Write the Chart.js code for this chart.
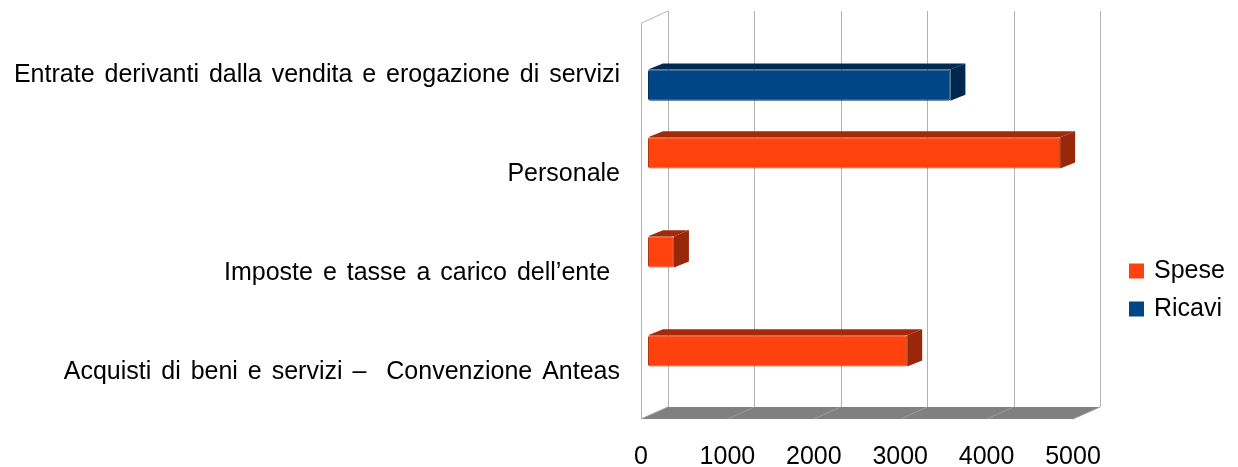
<!DOCTYPE html>
<html>
<head>
<meta charset="utf-8">
<script src="https://cdn.jsdelivr.net/npm/chart.js@4.4.0/dist/chart.umd.min.js"></script>
<style>
  html, body { margin: 0; padding: 0; background: #fff; }
  #wrap { width: 1238px; height: 467px; }
</style>
</head>
<body>
<div id="wrap"><canvas id="grafico"></canvas></div>
<script>
// ===== dati =====
const categorie = [
    'Entrate derivanti dalla vendita e erogazione di servizi',
    'Personale',
    'Imposte e tasse a carico dell’ente ',
    'Acquisti di beni e servizi –  Convenzione Anteas'
];
const spese = [null, 4770, 300, 3000];
const ricavi = [3500, null, null, null];
const tickValori = [0, 1000, 2000, 3000, 4000, 5000];
const serie = ['Spese', 'Ricavi'];

// ===== stile =====
const FONT = 'Liberation Sans, Arial, sans-serif';
const COLORI = {
    Spese:  { fronte: '#ff420e', bordo: '#b8320c', sopra: '#a22a0a', lato: '#992709' },
    Ricavi: { fronte: '#004586', bordo: '#00325f', sopra: '#002a52', lato: '#00284e' }
};

// offset prospettici rispetto al piano delle barre
const FRONTE = { dx: -7, dy: 3 };
const RETRO = { dx: 20, dy: -9 };
const BARRA = { dx: 15, dy: -6 };

function linea(ctx, x1, y1, x2, y2) {
    ctx.beginPath();
    ctx.moveTo(x1, y1);
    ctx.lineTo(x2, y2);
    ctx.stroke();
}

function poligono(ctx, punti, colore) {
    ctx.fillStyle = colore;
    ctx.beginPath();
    punti.forEach(([px, py], i) => i ? ctx.lineTo(px, py) : ctx.moveTo(px, py));
    ctx.closePath();
    ctx.fill();
}

// spaziatura parole un po' piu' larga, come nell'originale
const spaziatura = {
    id: 'spaziatura',
    beforeDraw(chart) {
        chart.ctx.wordSpacing = '3px';
    }
};

// pareti, pavimento e griglia di fondo
const pareti3d = {
    id: 'pareti3d',
    beforeDatasetsDraw(chart) {
        const { ctx, chartArea: a, scales: { x } } = chart;
        const x0 = x.getPixelForValue(tickValori[0]);
        const x1 = x.getPixelForValue(tickValori[tickValori.length - 1]);
        ctx.save();

        // pavimento
        poligono(ctx, [
            [x0 + FRONTE.dx, a.bottom + FRONTE.dy],
            [x1 + FRONTE.dx, a.bottom + FRONTE.dy],
            [x1 + RETRO.dx, a.bottom + RETRO.dy],
            [x0 + RETRO.dx, a.bottom + RETRO.dy]
        ], '#808080');
        ctx.lineWidth = 1;
        ctx.strokeStyle = '#9c9c9c';
        tickValori.forEach(v => {
            const p = x.getPixelForValue(v);
            linea(ctx, p + RETRO.dx, a.bottom + RETRO.dy, p + FRONTE.dx, a.bottom + FRONTE.dy);
        });

        // griglia sulla parete di fondo
        ctx.strokeStyle = '#b3b3b3';
        tickValori.forEach(v => {
            const p = Math.round(x.getPixelForValue(v) + RETRO.dx) + 0.5;
            linea(ctx, p, a.top + RETRO.dy, p, a.bottom + RETRO.dy);
        });

        // parete sinistra
        const xf = Math.round(x0 + FRONTE.dx) + 0.5;
        linea(ctx, xf, a.top + FRONTE.dy, xf, a.bottom + FRONTE.dy);
        linea(ctx, xf, a.top + FRONTE.dy, x0 + RETRO.dx, a.top + RETRO.dy);
        ctx.restore();
    },
    afterDatasetsDraw(chart) {
        const ctx = chart.ctx;
        ctx.save();
        chart.data.datasets.forEach((ds, i) => {
            const c = COLORI[ds.label];
            chart.getDatasetMeta(i).data.forEach((bar, j) => {
                if (ds.data[j] == null) return;
                const { x: xr, y, base, height } = bar.getProps(['x', 'y', 'base', 'height'], true);
                const alto = y - height / 2;
                const basso = y + height / 2;
                poligono(ctx, [
                    [base, alto], [base + BARRA.dx, alto + BARRA.dy],
                    [xr + BARRA.dx, alto + BARRA.dy], [xr, alto]
                ], c.sopra);
                poligono(ctx, [
                    [xr, alto], [xr + BARRA.dx, alto + BARRA.dy],
                    [xr + BARRA.dx, basso + BARRA.dy], [xr, basso]
                ], c.lato);
            });
        });
        ctx.restore();
    }
};

// legenda a destra
const legenda = {
    id: 'legenda',
    afterDraw(chart) {
        const { ctx, chartArea: a } = chart;
        ctx.save();
        ctx.font = '25px ' + FONT;
        ctx.textBaseline = 'middle';
        ctx.textAlign = 'left';
        chart.data.datasets.forEach((ds, i) => {
            const cy = 271 + i * 38;
            ctx.fillStyle = COLORI[ds.label].fronte;
            ctx.fillRect(a.right + 49, cy - 7.5, 15, 15);
            ctx.fillStyle = '#000';
            ctx.fillText(ds.label, a.right + 74, cy);
        });
        ctx.restore();
    }
};

const ctx = document.getElementById('grafico').getContext('2d');
new Chart(ctx, {
    type: 'bar',
    data: {
        labels: categorie,
        datasets: [
            {
                label: serie[0],
                data: spese,
                backgroundColor: COLORI.Spese.fronte,
                borderColor: COLORI.Spese.bordo,
                borderWidth: 1,
                borderRadius: 2,
                borderSkipped: false
            },
            {
                label: serie[1],
                data: ricavi,
                backgroundColor: COLORI.Ricavi.fronte,
                borderColor: COLORI.Ricavi.bordo,
                borderWidth: 1,
                borderRadius: 2,
                borderSkipped: false
            }
        ]
    },
    options: {
        indexAxis: 'y',
        responsive: true,
        maintainAspectRatio: false,
        animation: false,
        categoryPercentage: 0.63,
        barPercentage: 1,
        layout: { padding: { top: 20, right: 158, bottom: 0, left: 0 } },
        scales: {
            x: {
                min: 0,
                max: 5000,
                afterBuildTicks(scale) {
                    scale.ticks = tickValori.map(v => ({ value: v }));
                },
                afterFit(scale) {
                    scale.height = 51;
                    scale.paddingLeft = 0;
                    scale.paddingRight = 0;
                },
                grid: { display: false, drawTicks: false },
                border: { display: false },
                ticks: {
                    font: { family: FONT, size: 25 },
                    color: '#000',
                    padding: 26,
                    labelOffset: -7,
                    callback: v => String(v)
                }
            },
            y: {
                afterFit(scale) {
                    scale.width = 648;
                    scale.paddingTop = 0;
                    scale.paddingBottom = 0;
                },
                grid: { display: false, drawTicks: false },
                border: { display: false },
                ticks: { font: { family: FONT, size: 25 }, color: '#000', padding: 28, labelOffset: 5.5 }
            }
        },
        plugins: {
            legend: { display: false },
            tooltip: { enabled: false }
        }
    },
    plugins: [spaziatura, pareti3d, legenda]
});
</script>
</body>
</html>
